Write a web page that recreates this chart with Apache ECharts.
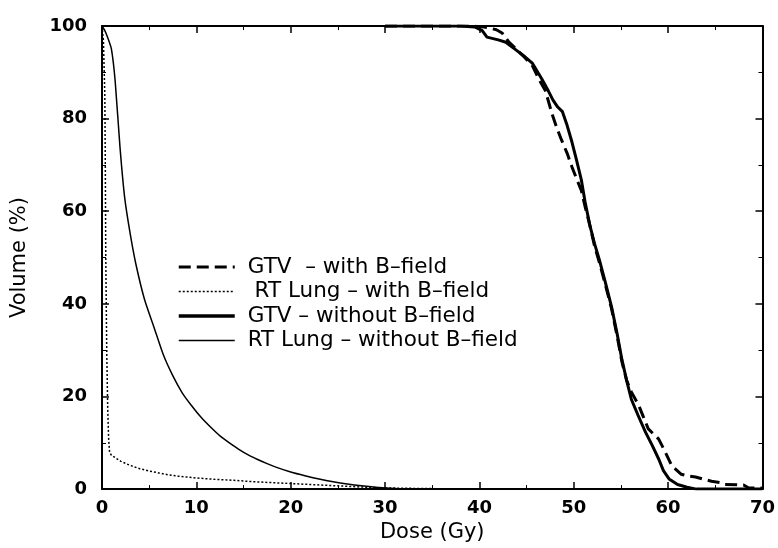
<!DOCTYPE html>
<html>
<head>
<meta charset="utf-8">
<script src="https://cdn.jsdelivr.net/npm/echarts@6/dist/echarts.min.js"></script>
<style>
  html, body { margin: 0; padding: 0; background: #fff; }
  #chart { width: 778px; height: 548px; }
</style>
</head>
<body>
<div id="chart"></div>
<script>
"use strict";
// axis ticks
var doseTicks = [0, 10, 20, 30, 40, 50, 60, 70];
var volumeTicks = [0, 20, 40, 60, 80, 100];

// series names (as in the legend)
var names = ["GTV  \u2013 with B\u2013field", " RT Lung \u2013 with B\u2013field", "GTV \u2013 without B\u2013field", "RT Lung \u2013 without B\u2013field"];

// GTV with B-field (dashed)
var gtvWithDose = [30, 39, 40.5, 41.8, 42.4, 43.1, 43.9, 44.8, 45.6, 46.3, 47, 47.7, 48.2, 48.7, 49.3, 49.8, 50.3, 50.8, 51.2, 51.7, 52.2, 52.7, 53.3, 54, 54.6, 55.1, 55.6, 56.1, 56.5, 56.9, 57.4, 57.9, 58.5, 59, 59.7, 60.4, 61.4, 62.2, 62.9, 63.8, 64.6, 65.5, 66, 68, 68.5, 70];
var gtvWithVol = [100, 100, 99.8, 99.2, 98.5, 96.6, 95, 93.2, 91.5, 88.5, 86, 81, 78, 75.4, 72.5, 69.6, 67, 64.5, 61, 57, 52.5, 49, 44.5, 39, 33, 27.5, 23.5, 21, 19.5, 18, 15.5, 13, 11.8, 10.8, 8, 5, 3.2, 2.8, 2.6, 2.1, 1.7, 1.4, 1, 0.9, 0.3, 0.2];

// RT Lung with B-field (dotted)
var lungWithDose = [0, 0.15, 0.3, 0.35, 0.4, 0.5, 0.6, 0.7, 0.8, 1, 2, 3, 4, 5, 6, 7, 8, 9, 10, 12, 14, 16, 18, 20, 22, 24, 26, 28, 30, 33, 36, 40];
var lungWithVol = [100, 97, 85, 70, 50, 30, 18, 11, 8, 7.3, 6, 5.1, 4.4, 3.9, 3.5, 3.1, 2.8, 2.6, 2.4, 2.1, 1.9, 1.6, 1.4, 1.2, 1.0, 0.8, 0.6, 0.4, 0.25, 0.15, 0.08, 0];

// GTV without B-field (thick solid)
var gtvWithoutDose = [30, 38, 39.5, 40.3, 40.8, 42, 42.8, 43.9, 44.8, 45.6, 46.6, 47.3, 47.8, 48.3, 48.8, 49.3, 49.8, 50.3, 50.8, 51.2, 51.7, 52.2, 52.7, 53.3, 54, 54.6, 55.1, 55.6, 56.1, 56.8, 57.6, 58.3, 59, 59.5, 60.1, 61, 62, 63, 70];
var gtvWithoutVol = [100, 100, 99.8, 99, 97.6, 97, 96.5, 94.8, 93.4, 92, 88.6, 86, 84, 82.5, 81.5, 78.5, 75, 71, 66.8, 62, 57, 53, 49.6, 45, 39.4, 33.5, 28, 23.5, 19.4, 16, 12.3, 9.5, 6.5, 4, 2.2, 1, 0.4, 0, 0];

// RT Lung without B-field (thin solid)
var lungWithoutDose = [0, 0.3, 0.6, 1, 1.4, 1.9, 2.4, 3, 3.6, 4.5, 5.5, 6.5, 7.5, 8.5, 9.5, 10.5, 11.5, 12.5, 13.5, 14.5, 15.5, 16.5, 17.5, 18.5, 20, 21.5, 23, 24.5, 26, 27.5, 29, 31, 33, 36];
var lungWithoutVol = [100, 99, 97.5, 95, 88, 74, 63, 55, 48.5, 41, 35, 29, 24.5, 20.8, 18, 15.5, 13.4, 11.5, 10, 8.6, 7.4, 6.4, 5.5, 4.7, 3.7, 2.9, 2.2, 1.6, 1.1, 0.7, 0.4, 0.15, 0.05, 0];

function pairs(xs, ys) {
    return xs.map(function (x, i) { return [x, ys[i]]; });
}

var chart = echarts.init(document.getElementById("chart"));
var font = "DejaVu Sans";
var tickStyle = {show: true, inside: true, length: 7, lineStyle: {color: "#000", width: 1.5}};
var minorStyle = {show: true, splitNumber: 2, length: 4, lineStyle: {color: "#000", width: 1}};
var axisLine = {show: true, onZero: false, lineStyle: {color: "#000", width: 2}};

// line look of each series (also reused for its legend entry)
var styles = [
    {color: "#000", width: 3, type: [12, 6]},
    {color: "#000", width: 1.5, type: [2, 2]},
    {color: "#000", width: 3.5, type: "solid"},
    {color: "#000", width: 1.5, type: "solid"}
];

var option = {
    backgroundColor: "#fff",
    animation: false,
    color: ["#000", "#000", "#000", "#000"],
    grid: {left: 102, right: 14, top: 26, bottom: 58},
    legend: {
        orient: "vertical",
        left: 177,
        top: 256,
        itemWidth: 56,
        itemHeight: 14,
        itemGap: 2.5,
        padding: 0,
        data: names.map(function (n, i) { return {name: n, lineStyle: styles[i]}; }),
        itemStyle: {color: "rgba(0,0,0,0)", borderWidth: 0, opacity: 0},
        textStyle: {fontFamily: font, fontSize: 21.5, color: "#000", padding: [0, 0, 0, 8]}
    },
    xAxis: [{
        type: "value", min: doseTicks[0], max: doseTicks[doseTicks.length - 1], interval: 10,
        name: "Dose (Gy)", nameLocation: "middle", nameGap: 20,
        nameTextStyle: {fontFamily: font, fontSize: 21, color: "#000"},
        axisLine: axisLine, axisTick: tickStyle, minorTick: minorStyle,
        splitLine: {show: false},
        axisLabel: {fontFamily: font, fontSize: 18, fontWeight: "bold", color: "#000", margin: 10}
    }, {
        type: "value", position: "top", min: 0, max: 70, interval: 10,
        axisLine: axisLine, axisTick: tickStyle, minorTick: minorStyle,
        splitLine: {show: false}, axisLabel: {show: false}
    }],
    yAxis: [{
        type: "value", min: volumeTicks[0], max: volumeTicks[volumeTicks.length - 1], interval: 20,
        name: "Volume (%)", nameLocation: "middle", nameGap: 72,
        nameTextStyle: {fontFamily: font, fontSize: 21, color: "#000"},
        axisLine: axisLine, axisTick: tickStyle, minorTick: minorStyle,
        splitLine: {show: false},
        axisLabel: {fontFamily: font, fontSize: 18, fontWeight: "bold", color: "#000", margin: 15}
    }, {
        type: "value", position: "right", min: 0, max: 100, interval: 20,
        axisLine: axisLine, axisTick: tickStyle, minorTick: minorStyle,
        splitLine: {show: false}, axisLabel: {show: false}
    }],
    series: [{
        name: names[0], type: "line", symbol: "none", z: 4,
        lineStyle: styles[0],
        data: pairs(gtvWithDose, gtvWithVol)
    }, {
        name: names[1], type: "line", symbol: "none", z: 2,
        lineStyle: styles[1],
        data: pairs(lungWithDose, lungWithVol)
    }, {
        name: names[2], type: "line", symbol: "none", z: 3,
        lineStyle: {color: "#000", width: 3},
        data: pairs(gtvWithoutDose, gtvWithoutVol)
    }, {
        name: names[3], type: "line", symbol: "none", z: 2, smooth: 0.2,
        lineStyle: styles[3],
        data: pairs(lungWithoutDose, lungWithoutVol)
    }]
};
chart.setOption(option);
</script>
</body>
</html>
